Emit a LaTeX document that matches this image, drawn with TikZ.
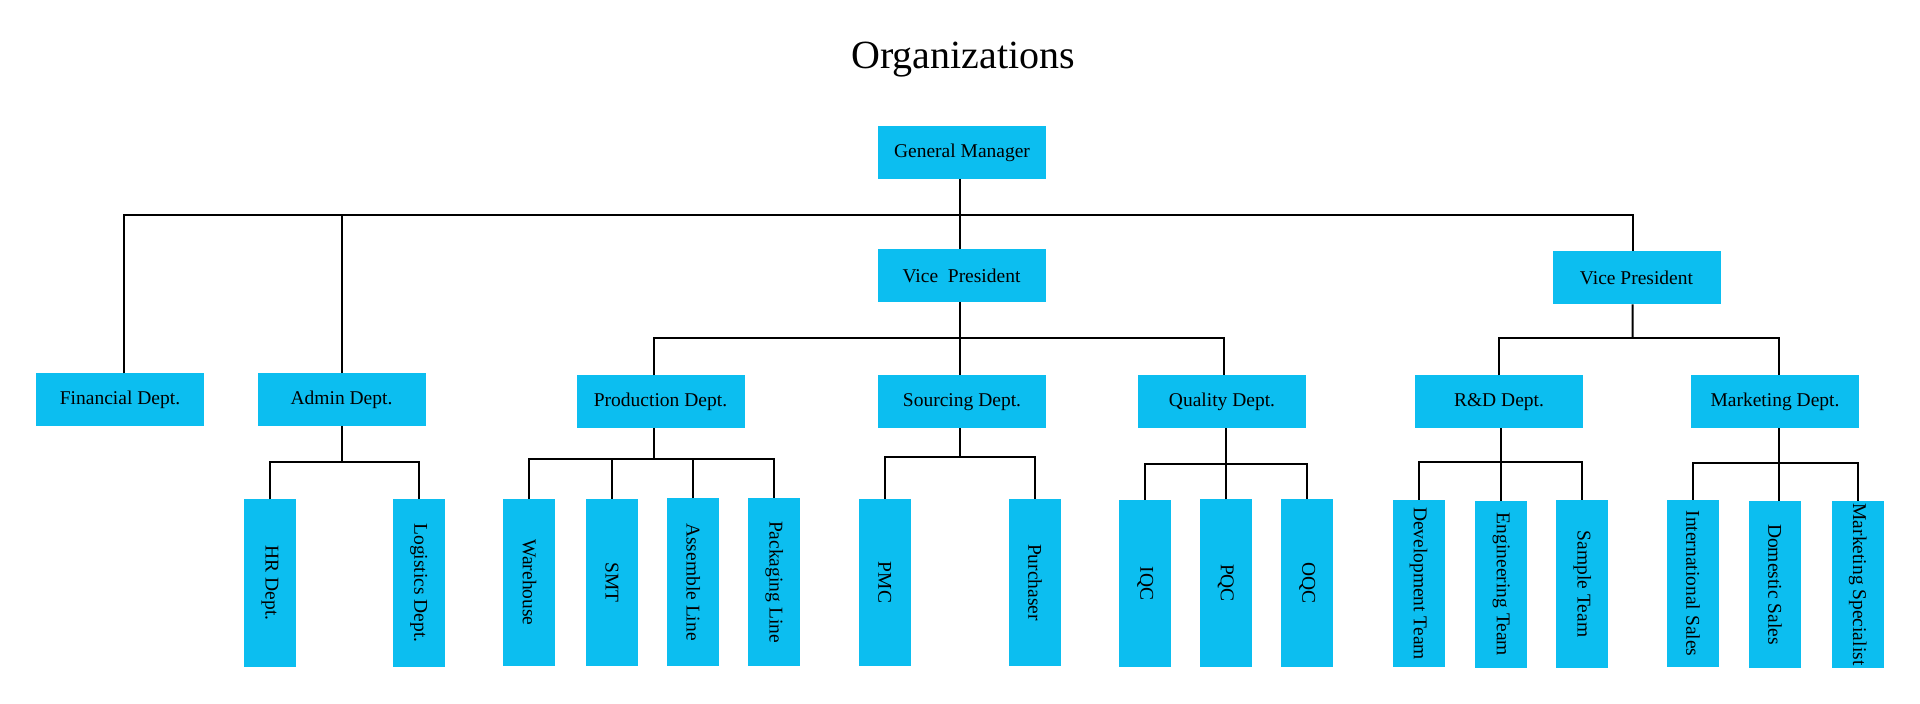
\documentclass[tikz,border=0pt]{standalone}
\usepackage{fontspec}
\usepackage{graphicx}
\setmainfont{Liberation Serif}
\definecolor{boxblue}{RGB}{12,190,240}
\begin{document}
\begin{tikzpicture}[x=0.5pt,y=-0.5pt,
  box/.style={fill=boxblue, draw=none, inner sep=0pt, outer sep=0pt,
    minimum width=84pt, minimum height=26.5pt, font=\fontsize{9.75}{11}\selectfont},
  vbox/.style={box, minimum width=26pt, minimum height=83.5pt},
  conn/.style={draw=black, line width=1pt}]
\useasboundingbox[fill=white] (0,0) rectangle (1920,704);
\node[font=\fontsize{20}{24}\selectfont, anchor=base] (title) at (963,69) {Organizations};
% level 0-1
\node[box] (gm) at (962,152.5) {General Manager};
\node[box] (vp1) at (961.5,276) {Vice\ \ President};
\node[box] (vp2) at (1636.5,278) {Vice President};
% level 2
\node[box] (fin) at (120,400) {Financial Dept.};
\node[box] (adm) at (341.5,400) {Admin Dept.};
\node[box] (prod) at (660.5,402) {Production Dept.};
\node[box] (src) at (962,402) {Sourcing Dept.};
\node[box] (qual) at (1222,402) {Quality Dept.};
\node[box] (rd) at (1499,402) {R\&D Dept.};
\node[box] (mkt) at (1775,402) {Marketing Dept.};
% level 3
\node[vbox] (hr) at (270,583) {\rotatebox{-90}{HR Dept.}};
\node[vbox] (lg) at (418.8,583) {\rotatebox{-90}{Logistics Dept.}};
\node[vbox] (wh) at (529.4,582.5) {\rotatebox{-90}{Warehouse}};
\node[vbox] (smt) at (611.9,582.5) {\rotatebox{-90}{SMT}};
\node[vbox] (asm) at (693.2,582) {\rotatebox{-90}{Assemble Line}};
\node[vbox] (pk) at (774.3,582) {\rotatebox{-90}{Packaging Line}};
\node[vbox] (pmc) at (884.8,582.5) {\rotatebox{-90}{PMC}};
\node[vbox] (pur) at (1035,582.5) {\rotatebox{-90}{Purchaser}};
\node[vbox] (iqc) at (1145.2,583.5) {\rotatebox{-90}{IQC}};
\node[vbox] (pqc) at (1225.8,583) {\rotatebox{-90}{PQC}};
\node[vbox] (oqc) at (1307.3,583) {\rotatebox{-90}{OQC}};
\node[vbox] (dev) at (1418.5,583.5) {\rotatebox{-90}{Development Team}};
\node[vbox] (eng) at (1501.3,584.5) {\rotatebox{-90}{Engineering Team}};
\node[vbox] (smp) at (1582.2,584) {\rotatebox{-90}{Sample Team}};
\node[vbox] (intl) at (1693,583.5) {\rotatebox{-90}{International Sales}};
\node[vbox] (dom) at (1775,584.5) {\rotatebox{-90}{Domestic Sales}};
\node[vbox] (msp) at (1857.7,584.5) {\rotatebox{-90}{Marketing Specialist}};
% connectors level 1
\coordinate (b1) at (960,215);
\draw[conn] ([xshift=1.8pt]fin.north) |- (b1) -| ([xshift=-2pt]vp2.north);
\draw[conn] ([xshift=-1pt]gm.south) -- ([xshift=-1pt]gm.south |- vp1.north);
\draw[conn] (adm.north) -- (adm.north |- b1);
% connectors level 2
\coordinate (b2) at (960,338);
\draw[conn] ([xshift=-3.25pt]prod.north) |- (b2) -| ([xshift=1pt]qual.north);
\draw[conn] ([xshift=-1pt]vp1.south) -- ([xshift=-1pt]vp1.south |- src.north);
\coordinate (b3) at (1632.7,338);
\draw[conn] ([xshift=-2pt]vp2.south) -- (b3);
\draw[conn] (rd.north) |- (b3) -| ([xshift=2pt]mkt.north);
% connectors level 3
\coordinate (sa) at (341.5,462);
\draw[conn] (adm.south) -- (sa);
\draw[conn] (hr.north) |- (sa) -| (lg.north);
\coordinate (sp) at (654,459);
\draw[conn] ([xshift=-3.25pt]prod.south) -- (sp);
\draw[conn] (wh.north) |- (sp) -| (pk.north);
\draw[conn] (smt.north) -- (smt.north |- sp);
\draw[conn] (asm.north) -- (asm.north |- sp);
\coordinate (ss) at (960.4,457);
\draw[conn] ([xshift=-0.8pt]src.south) -- (ss);
\draw[conn] (pmc.north) |- (ss) -| (pur.north);
\coordinate (sq) at (1225.8,464);
\draw[conn] (pqc.north) -- (pqc.north |- qual.south);
\draw[conn] (iqc.north) |- (sq) -| (oqc.north);
\coordinate (sr) at (1501.3,462);
\draw[conn] (eng.north) -- (eng.north |- rd.south);
\draw[conn] (dev.north) |- (sr) -| (smp.north);
\coordinate (sm) at (1779,463);
\draw[conn] ([xshift=2pt]dom.north) -- ([xshift=2pt]dom.north |- mkt.south);
\draw[conn] (intl.north) |- (sm) -| (msp.north);
\end{tikzpicture}
\end{document}
